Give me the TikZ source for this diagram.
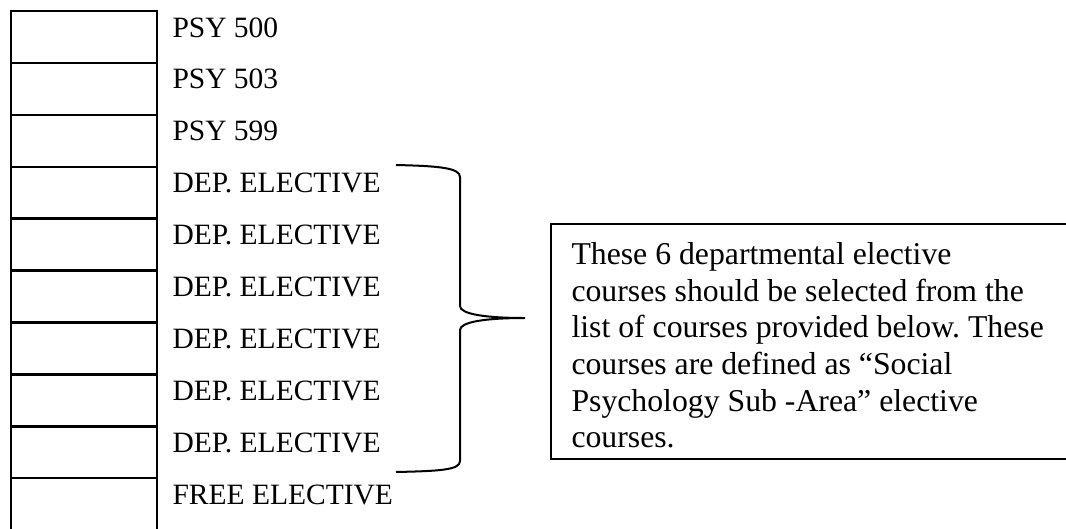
\documentclass[tikz,border=0pt]{standalone}
\usepackage{fontspec}
\setmainfont{Liberation Serif}
\frenchspacing
\tikzset{
  cell/.style={draw, rectangle, line width=1pt, minimum width=58.4pt,
    minimum height=20.76pt, inner sep=0pt},
  course/.style={anchor=base west, inner sep=0pt,
    font=\fontsize{11.8}{14}\selectfont},
  brace/.style={line width=0.8pt},
  notebox/.style={draw, rectangle, line width=0.8pt, anchor=north west,
    minimum width=220pt, minimum height=94pt, inner sep=0pt},
  notetext/.style={anchor=north west, inner sep=0pt, align=left,
    font=\fontsize{12.7}{14.67}\selectfont},
}
\begin{document}
\begin{tikzpicture}[x=0.4pt,y=-0.4pt]
  \clip (0,0) rectangle (1066,528);
  \draw
    (84,37.0) node[cell] (c0){}
    (84,88.9) node[cell] (c1){}
    (84,140.8) node[cell] (c2){}
    (84,192.7) node[cell] (c3){}
    (84,244.6) node[cell] (c4){}
    (84,296.5) node[cell] (c5){}
    (84,348.4) node[cell] (c6){}
    (84,400.3) node[cell] (c7){}
    (84,452.2) node[cell] (c8){}
    (84,504.1) node[cell] (c9){};
  \draw
    (172,37.0) node[course] (t0){PSY 500}
    (172,88.9) node[course] (t1){PSY 503}
    (172,140.8) node[course] (t2){PSY 599}
    (172,192.7) node[course] (t3){DEP. ELECTIVE}
    (172,244.6) node[course] (t4){DEP. ELECTIVE}
    (172,296.5) node[course] (t5){DEP. ELECTIVE}
    (172,348.4) node[course] (t6){DEP. ELECTIVE}
    (172,400.3) node[course] (t7){DEP. ELECTIVE}
    (172,452.2) node[course] (t8){DEP. ELECTIVE}
    (172,504.1) node[course] (t9){FREE ELECTIVE};
  % brace over the six departmental electives
  \coordinate (bt) at (396,165);
  \coordinate (tip) at (525,318);
  \coordinate (bb) at (396,472);
  \draw[brace] (bt) .. controls (440,166) and (460,168) .. (460,177)
    -- (460,306) .. controls (460,314) and (485,318) .. (tip)
    .. controls (485,318) and (460,322) .. (460,330)
    -- (460,461) .. controls (460,470) and (440,471) .. (bb);
  % note box, open past the right edge
  \node[notebox] (note) at (550,223) {};
  \node[notetext] (notetext) at (571,241.8) {These 6 departmental elective\\
    courses should be selected from the\\
    list of courses provided below. These\\
    courses are defined as “Social\\
    Psychology Sub -Area” elective\\
    courses.};
\end{tikzpicture}
\end{document}
